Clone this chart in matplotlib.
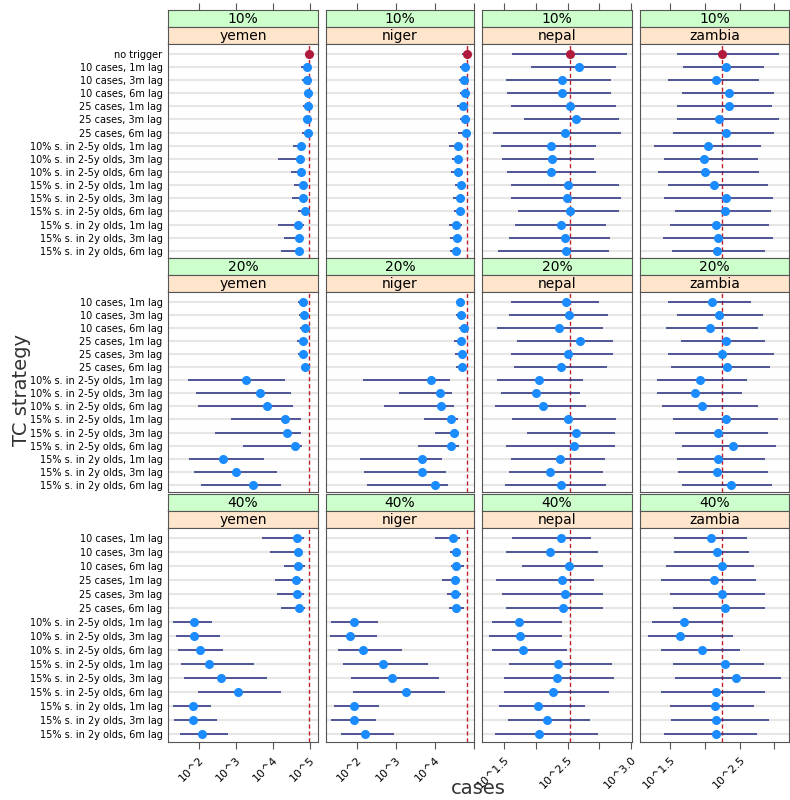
import matplotlib
matplotlib.use("Agg")
import matplotlib.pyplot as plt
import numpy as np

countries = ["yemen", "niger", "nepal", "zambia"]
coverages = ["10%", "20%", "40%"]
strategies = ["no trigger", "10 cases, 1m lag", "10 cases, 3m lag", "10 cases, 6m lag",
              "25 cases, 1m lag", "25 cases, 3m lag", "25 cases, 6m lag",
              "10% s. in 2-5y olds, 1m lag", "10% s. in 2-5y olds, 3m lag", "10% s. in 2-5y olds, 6m lag",
              "15% s. in 2-5y olds, 1m lag", "15% s. in 2-5y olds, 3m lag", "15% s. in 2-5y olds, 6m lag",
              "15% s. in 2y olds, 1m lag", "15% s. in 2y olds, 3m lag", "15% s. in 2y olds, 6m lag"]

# log10(cases): (median, low, high); row 1 includes "no trigger"
yemen_10 = [(4.99,4.87,5.10),(4.91,4.77,5.01),(4.93,4.78,5.03),(4.96,4.83,5.07),(4.96,4.82,5.07),(4.93,4.81,5.07),
            (4.95,4.79,5.07),(4.76,4.55,4.85),(4.73,4.15,4.83),(4.76,4.50,4.87),(4.82,4.58,4.91),(4.81,4.53,4.90),
            (4.88,4.69,4.96),(4.67,4.13,4.83),(4.71,4.30,4.82),(4.71,4.22,4.82)]
niger_10 = [(4.81,4.68,4.90),(4.77,4.63,4.86),(4.75,4.62,4.85),(4.78,4.63,4.89),(4.72,4.57,4.84),(4.76,4.63,4.90),
            (4.79,4.60,4.86),(4.58,4.35,4.70),(4.59,4.44,4.70),(4.58,4.40,4.69),(4.67,4.51,4.76),(4.63,4.47,4.73),
            (4.63,4.49,4.74),(4.54,4.35,4.68),(4.57,4.38,4.68),(4.55,4.39,4.66)]
nepal_10 = [(2.54,1.63,3.43),(2.68,1.92,3.26),(2.42,1.54,3.18),(2.42,1.55,3.18),(2.54,1.61,3.26),(2.63,1.82,3.31),
            (2.46,1.34,3.33),(2.24,1.45,2.94),(2.26,1.47,2.91),(2.24,1.55,2.94),(2.50,1.62,3.30),(2.49,1.61,3.34),
            (2.54,1.72,3.30),(2.39,1.67,3.10),(2.46,1.58,3.16),(2.47,1.41,3.15)]
zambia_10 = [(2.25,1.60,3.06),(2.30,1.68,2.85),(2.15,1.46,2.78),(2.34,1.66,2.99),(2.34,1.60,2.96),(2.20,1.59,3.06),
             (2.30,1.54,2.99),(2.04,1.26,2.80),(1.99,1.41,2.76),(2.00,1.32,2.78),(2.13,1.46,2.90),(2.30,1.41,2.98),
             (2.28,1.56,2.95),(2.16,1.49,2.92),(2.19,1.39,2.98),(2.17,1.52,2.86)]
yemen_20 = [(4.82,4.69,4.91),(4.85,4.72,4.94),(4.86,4.73,4.95),(4.81,4.66,4.91),(4.82,4.67,4.91),(4.86,4.76,4.93),
            (3.28,1.71,4.34),(3.66,1.92,4.48),(3.85,1.97,4.55),(4.33,2.86,4.75),(4.37,2.43,4.75),(4.59,3.20,4.80),
            (2.65,1.73,3.77),(3.00,1.88,4.10),(3.46,2.07,4.21)]
niger_20 = [(4.65,4.54,4.74),(4.66,4.55,4.75),(4.74,4.62,4.81),(4.66,4.50,4.75),(4.69,4.52,4.78),(4.70,4.55,4.80),
            (3.89,2.15,4.38),(4.14,3.08,4.44),(4.16,2.70,4.49),(4.41,3.71,4.59),(4.48,4.00,4.62),(4.42,3.56,4.62),
            (3.68,2.07,4.18),(3.68,2.19,4.28),(4.00,2.26,4.34)]
nepal_20 = [(2.47,1.62,3.00),(2.52,1.59,3.13),(2.37,1.40,3.06),(2.70,1.71,3.21),(2.51,1.62,3.21),(2.39,1.66,3.12),
            (2.05,1.39,2.74),(2.01,1.46,2.69),(2.11,1.37,2.79),(2.51,1.63,3.26),(2.63,1.87,3.24),(2.60,1.54,3.25),
            (2.38,1.62,3.08),(2.23,1.58,3.06),(2.39,1.52,3.10)]
zambia_20 = [(2.10,1.47,2.66),(2.20,1.59,2.84),(2.07,1.44,2.76),(2.30,1.65,2.86),(2.24,1.47,2.99),(2.32,1.51,2.94),
             (1.92,1.30,2.60),(1.86,1.30,2.53),(1.95,1.38,2.76),(2.30,1.53,3.05),(2.18,1.56,2.91),(2.40,1.67,3.02),
             (2.18,1.59,2.87),(2.17,1.61,2.90),(2.38,1.66,2.97)]
yemen_40 = [(4.64,3.72,4.83),(4.67,3.92,4.82),(4.67,4.31,4.86),(4.62,4.05,4.82),(4.64,4.10,4.83),(4.70,4.23,4.87),
            (1.88,1.31,2.37),(1.86,1.39,2.57),(2.03,1.44,2.66),(2.27,1.53,3.50),(2.61,1.61,3.83),(3.07,1.97,4.21),
            (1.84,1.30,2.33),(1.85,1.33,2.50),(2.08,1.50,2.79)]
niger_40 = [(4.47,4.00,4.65),(4.54,4.38,4.67),(4.55,4.41,4.74),(4.51,4.19,4.65),(4.52,4.31,4.66),(4.54,4.35,4.74),
            (1.92,1.33,2.55),(1.82,1.31,2.51),(2.16,1.51,3.16),(2.67,1.64,3.82),(2.90,1.84,4.11),(3.27,1.91,4.25),
            (1.92,1.42,2.57),(1.93,1.35,2.50),(2.21,1.59,2.95)]
nepal_40 = [(2.40,1.63,2.87),(2.23,1.53,2.97),(2.53,1.78,3.06),(2.41,1.38,2.92),(2.46,1.48,3.06),(2.43,1.53,3.06),
            (1.74,1.32,2.42),(1.75,1.27,2.41),(1.80,1.32,2.49),(2.35,1.58,3.20),(2.34,1.51,3.23),(2.28,1.50,3.15),
            (2.04,1.42,2.77),(2.18,1.57,2.85),(2.06,1.37,2.97)]
zambia_40 = [(2.09,1.55,2.61),(2.17,1.55,2.63),(2.25,1.44,2.71),(2.13,1.36,2.73),(2.24,1.50,2.86),(2.28,1.53,2.87),
             (1.69,1.23,2.25),(1.64,1.17,2.40),(1.96,1.36,2.51),(2.28,1.53,2.85),(2.45,1.56,3.10),(2.16,1.36,2.87),
             (2.14,1.49,2.71),(2.15,1.51,2.92),(2.15,1.41,2.75)]

data = [[yemen_10, niger_10, nepal_10, zambia_10],
        [yemen_20, niger_20, nepal_20, zambia_20],
        [yemen_40, niger_40, nepal_40, zambia_40]]

xlims = [(1.17, 5.22), (1.21, 5.0), (1.16, 3.51), (1.06, 3.21)]
xticks = [[2, 3, 4, 5], [2, 3, 4, 5], [1.5, 2, 2.5, 3, 3.5], [1.5, 2, 2.5, 3]]
xticklabels = [["10^2", "10^3", "10^4", "10^5"], ["10^2", "10^3", "10^4", ""],
               ["10^1.5", "", "10^2.5", "", "10^3.0"], ["10^1.5", "", "10^2.5", ""]]

W, H = 790, 800
fig = plt.figure(figsize=(7.9, 8.0), dpi=100)
colx = [(168, 318), (326, 474), (482, 632), (640, 789)]
rowy = [(10, 44, 258), (258, 292, 492), (494, 528, 742)]

def rect(x0, x1, y0, y1):
    return [x0 / W, 1 - y1 / H, (x1 - x0) / W, (y1 - y0) / H]

for r in range(3):
    s0, p0, p1 = rowy[r]
    for c in range(4):
        x0, x1 = colx[c]
        for k, (a, b, col, txt) in enumerate([(s0, s0 + 17, "#ccffcc", coverages[r]),
                                              (s0 + 17, p0, "#ffe5cc", countries[c])]):
            sa = fig.add_axes(rect(x0, x1, a, b))
            sa.set_facecolor(col)
            sa.set_yticks([])
            sa.set_xlim(*xlims[c])
            if r == 0 and k == 0:
                sa.xaxis.tick_top()
                sa.set_xticks(xticks[c])
                sa.set_xticklabels([])
                sa.tick_params(axis="x", direction="out", length=5, color="#555555")
            else:
                sa.set_xticks([])
            for sp in sa.spines.values():
                sp.set_color("#555555"); sp.set_linewidth(0.8)
            sa.text(0.5, 0.45, txt, ha="center", va="center", fontsize=10, transform=sa.transAxes)
        ax = fig.add_axes(rect(x0, x1, p0, p1))
        vals = data[r][c]
        labs = strategies if r == 0 else strategies[1:]
        n = len(vals)
        ys = np.arange(n)
        ref = data[0][c][0][0]
        for i, (m, lo, hi) in enumerate(vals):
            ax.axhline(i, color="#e6e6e6", lw=1.5, zorder=0)
            ax.plot([lo, hi], [i, i], color="#28307f", lw=1.3, alpha=0.85, solid_capstyle="butt", zorder=2)
            colr = "#b01a3c" if labs[i] == "no trigger" else "#1a8cff"
            ax.plot([m], [i], "o", ms=5.5, color=colr, zorder=3)
        ax.axvline(ref, color="#c0202a", lw=1, ls=(0, (3, 2)), zorder=1)
        ax.set_xlim(*xlims[c])
        ax.set_ylim(n - 0.45, -0.75)
        for sp in ax.spines.values():
            sp.set_color("#555555"); sp.set_linewidth(0.8)
        if c == 0:
            ax.set_yticks(ys)
            ax.set_yticklabels(labs, fontsize=7)
            ax.tick_params(axis="y", length=0, pad=4)
        else:
            ax.set_yticks([])
        ax.set_xticks(xticks[c])
        if r == 2:
            ax.set_xticklabels(xticklabels[c], rotation=45, ha="right", rotation_mode="anchor", fontsize=8)
            ax.tick_params(axis="x", direction="out", length=5, color="#555555", pad=4)
        else:
            ax.tick_params(axis="x", length=0)
            ax.set_xticklabels([])

fig.text(478 / W, 1 - 789 / H, "cases", ha="center", va="center", fontsize=14, color="#333333")
fig.text(22 / W, 1 - 390 / H, "TC strategy", ha="center", va="center", rotation=90, fontsize=14, color="#333333")

fig.savefig("out.png", dpi=100)
